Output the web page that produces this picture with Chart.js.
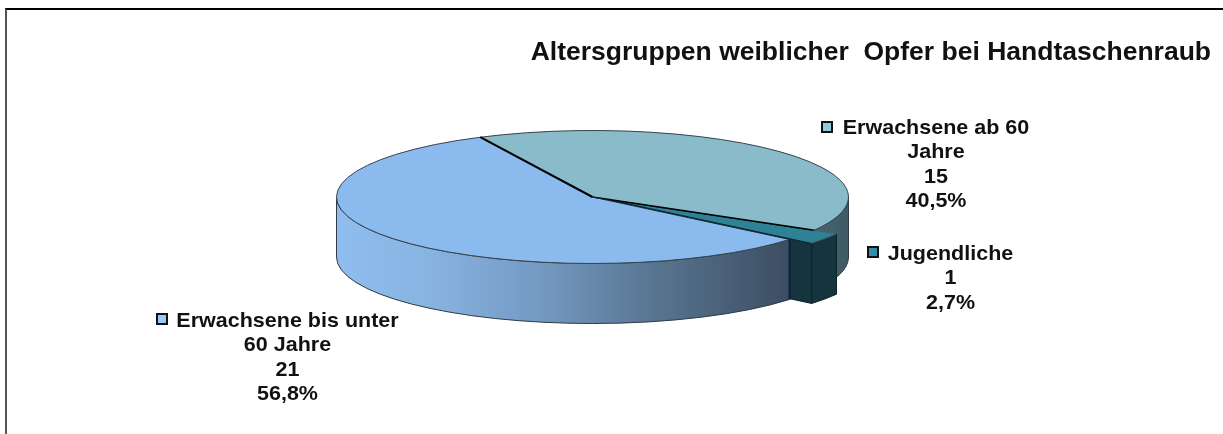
<!DOCTYPE html>
<html lang="de">
<head>
<meta charset="utf-8">
<title>Altersgruppen weiblicher Opfer bei Handtaschenraub</title>
<script src="https://cdn.jsdelivr.net/npm/chart.js@4/dist/chart.umd.min.js"></script>
<style>
    html, body { margin: 0; padding: 0; background: #fff; }
    #wrap { position: relative; width: 1223px; height: 434px; overflow: hidden; }
    #frame { position: absolute; left: 5px; top: 8px; right: 0; bottom: 0; border-top: 2px solid #000; border-left: 2px solid #555; }
    canvas { position: absolute; left: 0; top: 0; display: block; }
</style>
</head>
<body>
<div id="wrap">
    <div id="frame"></div>
    <canvas id="pieChart" width="1223" height="434"></canvas>
</div>
<script>
// Data
const chartTitle = 'Altersgruppen weiblicher  Opfer bei Handtaschenraub';
const categories = ['Erwachsene ab 60 Jahre', 'Jugendliche', 'Erwachsene bis unter 60 Jahre'];
const categoryLines = [['Erwachsene ab 60', 'Jahre'], ['Jugendliche'], ['Erwachsene bis unter', '60 Jahre']];
const values = [15, 1, 21];
const percents = ['40,5%', '2,7%', '56,8%'];

// Colours of the top faces and the label keys
const topColors = ['#89bbca', '#2f8196', '#8bbbee'];
const keyColors = ['#8fcbdd', '#2f8ea8', '#9ccaf6'];

// Pie geometry
const centerX = 592.5;
const centerY = 197;
const radius = 256;
const squash = 66.5 / 256;
const depth = 60;
const explodedIndex = 1;
const explodeBy = 27;

// Label placement
const labelSpots = [
    { x: 936, y: 128, keyX: 821, keyY: 121 },
    { x: 950.5, y: 254, keyX: 867, keyY: 246 },
    { x: 287.5, y: 321, keyX: 156, keyY: 313 }
];
const lineGap = 24.6;

const screenY = (y) => centerY + (y - centerY) * squash;

// the original's text is a little wider than the plain font
function stretchedText(ctx, text, x, y, stretch) {
    ctx.save();
    ctx.translate(x, y);
    ctx.scale(stretch, 1);
    ctx.fillText(text, 0, 0);
    ctx.restore();
}

function rimPath(ctx, arc, from, to) {
    const y = screenY(arc.y);
    ctx.beginPath();
    ctx.ellipse(arc.x, y, arc.outerRadius, arc.outerRadius * squash, 0, from, to, false);
    ctx.ellipse(arc.x, y + depth, arc.outerRadius, arc.outerRadius * squash, 0, to, from, true);
    ctx.closePath();
}

function sideFill(ctx, index) {
    if (index === explodedIndex) return '#15343e';
    if (index === 0) {
        const g = ctx.createLinearGradient(800, 0, 850, 0);
        g.addColorStop(0, '#4a6c77');
        g.addColorStop(1, '#3e5a63');
        return g;
    }
    const g = ctx.createLinearGradient(336, 0, 790, 0);
    g.addColorStop(0, '#8fbdee');
    g.addColorStop(0.2, '#88b4e2');
    g.addColorStop(0.45, '#7499c2');
    g.addColorStop(0.7, '#587590');
    g.addColorStop(1, '#3c4d62');
    return g;
}

const pie3d = {
    id: 'pie3d',
    afterDatasetUpdate(chart, args) {
        // move the slices to the picture's centre and pull one of them out
        args.meta.data.forEach((arc, i) => {
            const mid = (arc.startAngle + arc.endAngle) / 2;
            const pull = i === explodedIndex ? explodeBy : 0;
            arc.x = centerX + Math.cos(mid) * pull;
            arc.y = centerY + Math.sin(mid) * pull;
        });
    },
    beforeDatasetsDraw(chart) {
        const ctx = chart.ctx;
        const arcs = chart.getDatasetMeta(0).data;

        // Side walls, back to front in data order
        arcs.forEach((arc, i) => {
            const from = Math.max(arc.startAngle, 0);
            const to = Math.min(arc.endAngle, Math.PI);
            if (i === explodedIndex) {
                const ax = arc.x, ay = screenY(arc.y);
                const ox = ax + Math.cos(to) * arc.outerRadius;
                const oy = ay + Math.sin(to) * arc.outerRadius * squash;
                ctx.beginPath();
                ctx.moveTo(ax, ay);
                ctx.lineTo(ox, oy);
                ctx.lineTo(ox, oy + depth);
                ctx.lineTo(ax, ay + depth);
                ctx.closePath();
                ctx.fillStyle = '#15343e';
                ctx.fill();
                ctx.strokeStyle = '#0c2229';
                ctx.lineWidth = 1;
                ctx.stroke();
            }
            rimPath(ctx, arc, from, to);
            ctx.fillStyle = sideFill(ctx, i);
            ctx.fill();
            ctx.strokeStyle = i === explodedIndex ? '#0c2229' : '#2f3a44';
            ctx.lineWidth = 1;
            ctx.stroke();
            if (i === 2) {
                // dark edge where the big slice is cut open
                const ex = arc.x + Math.cos(from) * arc.outerRadius;
                const ey = screenY(arc.y) + Math.sin(from) * arc.outerRadius * squash;
                ctx.beginPath();
                ctx.moveTo(ex, ey);
                ctx.lineTo(ex, ey + depth);
                ctx.strokeStyle = '#0b1f4a';
                ctx.lineWidth = 2;
                ctx.stroke();
            }
        });

        // dark floor seen through the gap the pulled slice leaves
        ctx.beginPath();
        ctx.ellipse(centerX, centerY, radius - 2, (radius - 2) * squash, 0, 0, Math.PI * 2);
        ctx.fillStyle = '#15343e';
        ctx.fill();

        // the library draws the top faces flattened
        ctx.save();
        ctx.translate(0, centerY);
        ctx.scale(1, squash);
        ctx.translate(0, -centerY);
    },
    afterDatasetsDraw(chart) {
        const ctx = chart.ctx;
        ctx.restore();
        const arcs = chart.getDatasetMeta(0).data;

        // Rims
        arcs.forEach((arc) => {
            ctx.beginPath();
            ctx.ellipse(arc.x, screenY(arc.y), arc.outerRadius, arc.outerRadius * squash, 0, arc.startAngle, arc.endAngle);
            ctx.strokeStyle = '#37424c';
            ctx.lineWidth = 1;
            ctx.stroke();
        });

        // Slice edges
        const edge = (arc, angle, color, width) => {
            const y = screenY(arc.y);
            ctx.beginPath();
            ctx.moveTo(arc.x, y);
            ctx.lineTo(arc.x + Math.cos(angle) * arc.outerRadius, y + Math.sin(angle) * arc.outerRadius * squash);
            ctx.strokeStyle = color;
            ctx.lineWidth = width;
            ctx.stroke();
        };
        edge(arcs[0], arcs[0].startAngle, '#000', 2);
        edge(arcs[0], arcs[0].endAngle, '#000', 1.6);
        edge(arcs[2], arcs[2].startAngle, '#1d2f3a', 1);
        edge(arcs[1], arcs[1].endAngle, '#0c2229', 1);
    },
    afterDraw(chart) {
        const ctx = chart.ctx;
        ctx.save();
        ctx.textBaseline = 'middle';

        // Title
        ctx.font = 'bold 25px "Liberation Sans", Arial, sans-serif';
        ctx.textAlign = 'right';
        ctx.fillStyle = '#111';
        stretchedText(ctx, chartTitle, 1211, 53, 1.06);

        // Labels with their keys
        ctx.font = 'bold 20.5px "Liberation Sans", Arial, sans-serif';
        ctx.textAlign = 'center';
        labelSpots.forEach((spot, i) => {
            ctx.fillStyle = keyColors[i];
            ctx.strokeStyle = '#111';
            ctx.lineWidth = 2;
            ctx.fillRect(spot.keyX + 1, spot.keyY + 1, 10, 10);
            ctx.strokeRect(spot.keyX + 1, spot.keyY + 1, 10, 10);
            ctx.fillStyle = '#111';
            const lines = [...categoryLines[i], String(values[i]), percents[i]];
            lines.forEach((line, n) => stretchedText(ctx, line, spot.x, spot.y + n * lineGap, 1.049));
        });
        ctx.restore();
    }
};

new Chart(document.getElementById('pieChart'), {
    type: 'pie',
    data: {
        labels: categories,
        datasets: [{
            data: values,
            backgroundColor: topColors,
            borderWidth: 0,
            clip: false
        }]
    },
    options: {
        responsive: false,
        animation: false,
        events: [],
        rotation: -26,
        radius: radius,
        plugins: {
            legend: { display: false },
            tooltip: { enabled: false },
            title: { display: false }
        }
    },
    plugins: [pie3d]
});
</script>
</body>
</html>
